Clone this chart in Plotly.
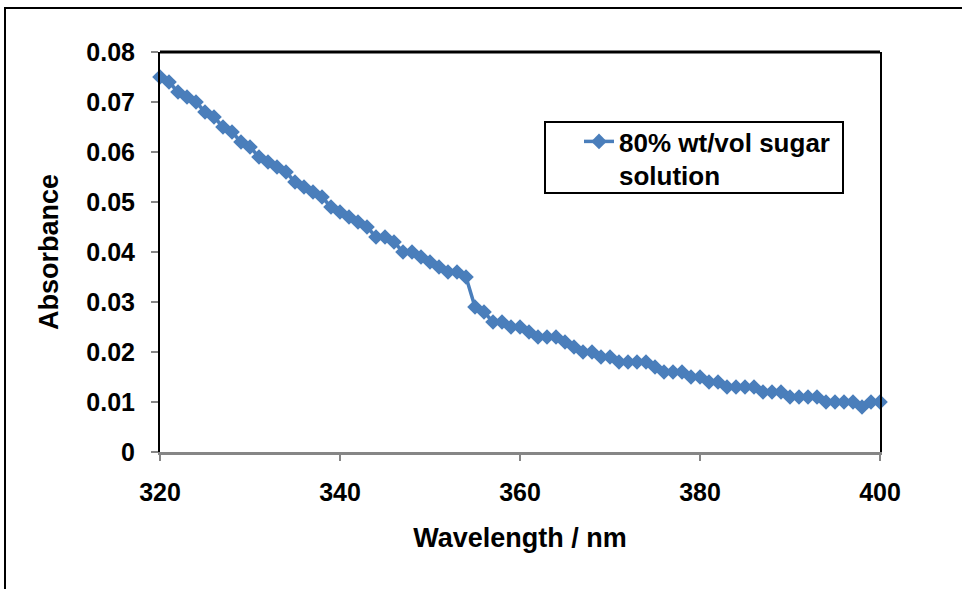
import plotly.graph_objects as go

wavelength = list(range(320, 401))
absorbance = [
    0.075, 0.074, 0.072, 0.071, 0.070, 0.068, 0.067, 0.065, 0.064, 0.062,  # 320-329
    0.061, 0.059, 0.058, 0.057, 0.056, 0.054, 0.053, 0.052, 0.051, 0.049,  # 330-339
    0.048, 0.047, 0.046, 0.045, 0.043, 0.043, 0.042, 0.040, 0.040, 0.039,  # 340-349
    0.038, 0.037, 0.036, 0.036, 0.035, 0.029, 0.028, 0.026, 0.026, 0.025,  # 350-359
    0.025, 0.024, 0.023, 0.023, 0.023, 0.022, 0.021, 0.020, 0.020, 0.019,  # 360-369
    0.019, 0.018, 0.018, 0.018, 0.018, 0.017, 0.016, 0.016, 0.016, 0.015,  # 370-379
    0.015, 0.014, 0.014, 0.013, 0.013, 0.013, 0.013, 0.012, 0.012, 0.012,  # 380-389
    0.011, 0.011, 0.011, 0.011, 0.010, 0.010, 0.010, 0.010, 0.009, 0.010,  # 390-399
    0.010,                                                                 # 400
]
series_name = "80% wt/vol sugar<br>solution"
x_ticks = [320, 340, 360, 380, 400]
y_ticks = [0, 0.01, 0.02, 0.03, 0.04, 0.05, 0.06, 0.07, 0.08]
y_ticklabels = ["0", "0.01", "0.02", "0.03", "0.04", "0.05", "0.06", "0.07", "0.08"]

FONT = "Liberation Sans, Arial, sans-serif"
BLUE = "#4A7EBB"
TICK_SIZE = 25
TITLE_SIZE = 27
LEGEND_SIZE = 26

fig = go.Figure()
fig.add_trace(go.Scatter(
    x=wavelength, y=absorbance, mode="lines+markers", name=series_name,
    line=dict(color=BLUE, width=3.5),
    marker=dict(symbol="diamond", size=12, color=BLUE),
    cliponaxis=False,
))

fig.update_layout(
    width=962, height=589,
    margin=dict(l=160, r=82, t=52, b=137),
    paper_bgcolor="white", plot_bgcolor="white",
    font=dict(family=FONT, color="black", size=TICK_SIZE, weight="bold"),
    showlegend=True,
    legend=dict(
        x=(579 - 160) / 720, y=(452 - 118) / 400, xanchor="left", yanchor="top",
        borderwidth=0, bgcolor="rgba(0,0,0,0)",
        font=dict(family=FONT, size=LEGEND_SIZE, color="black", weight="bold"),
        valign="top",
    ),
    xaxis=dict(
        range=[320, 400], tickvals=x_ticks, ticks="outside", ticklen=6,
        tickcolor="#868686", tickwidth=2,
        showline=True, linecolor="#868686", linewidth=3,
        showgrid=False, zeroline=False,
        tickfont=dict(family=FONT, size=TICK_SIZE, weight="bold"),
        ticklabelstandoff=10,
        title=dict(text="Wavelength / nm", standoff=24,
                   font=dict(family=FONT, size=TITLE_SIZE, weight="bold")),
    ),
    yaxis=dict(
        range=[0, 0.08], tickvals=y_ticks, ticktext=y_ticklabels,
        ticks="outside", ticklen=7, tickcolor="#868686", tickwidth=2,
        showline=True, linecolor="black", linewidth=2, mirror=True,
        showgrid=False, zeroline=False,
        tickfont=dict(family=FONT, size=TICK_SIZE, weight="bold"),
        ticklabelstandoff=11,
        title=dict(text="Absorbance", standoff=20,
                   font=dict(family=FONT, size=TITLE_SIZE, weight="bold")),
    ),
    shapes=[
        # top edge of plot area
        dict(type="line", xref="paper", yref="paper", x0=0, x1=1, y0=1, y1=1,
             line=dict(color="black", width=3)),
        # outer chart border (extends past the image right/bottom)
        dict(type="rect", xref="paper", yref="paper",
             x0=(5 - 160) / 720, x1=1.3, y0=(452 - 8) / 400, y1=-0.5,
             line=dict(color="black", width=2), layer="below"),
        # legend frame
        dict(type="rect", xref="paper", yref="paper",
             x0=(545 - 160) / 720, x1=(843 - 160) / 720,
             y0=(452 - 122) / 400, y1=(452 - 193) / 400,
             line=dict(color="black", width=2), fillcolor="white", layer="above"),
    ],
)

fig.write_html("out.html")
